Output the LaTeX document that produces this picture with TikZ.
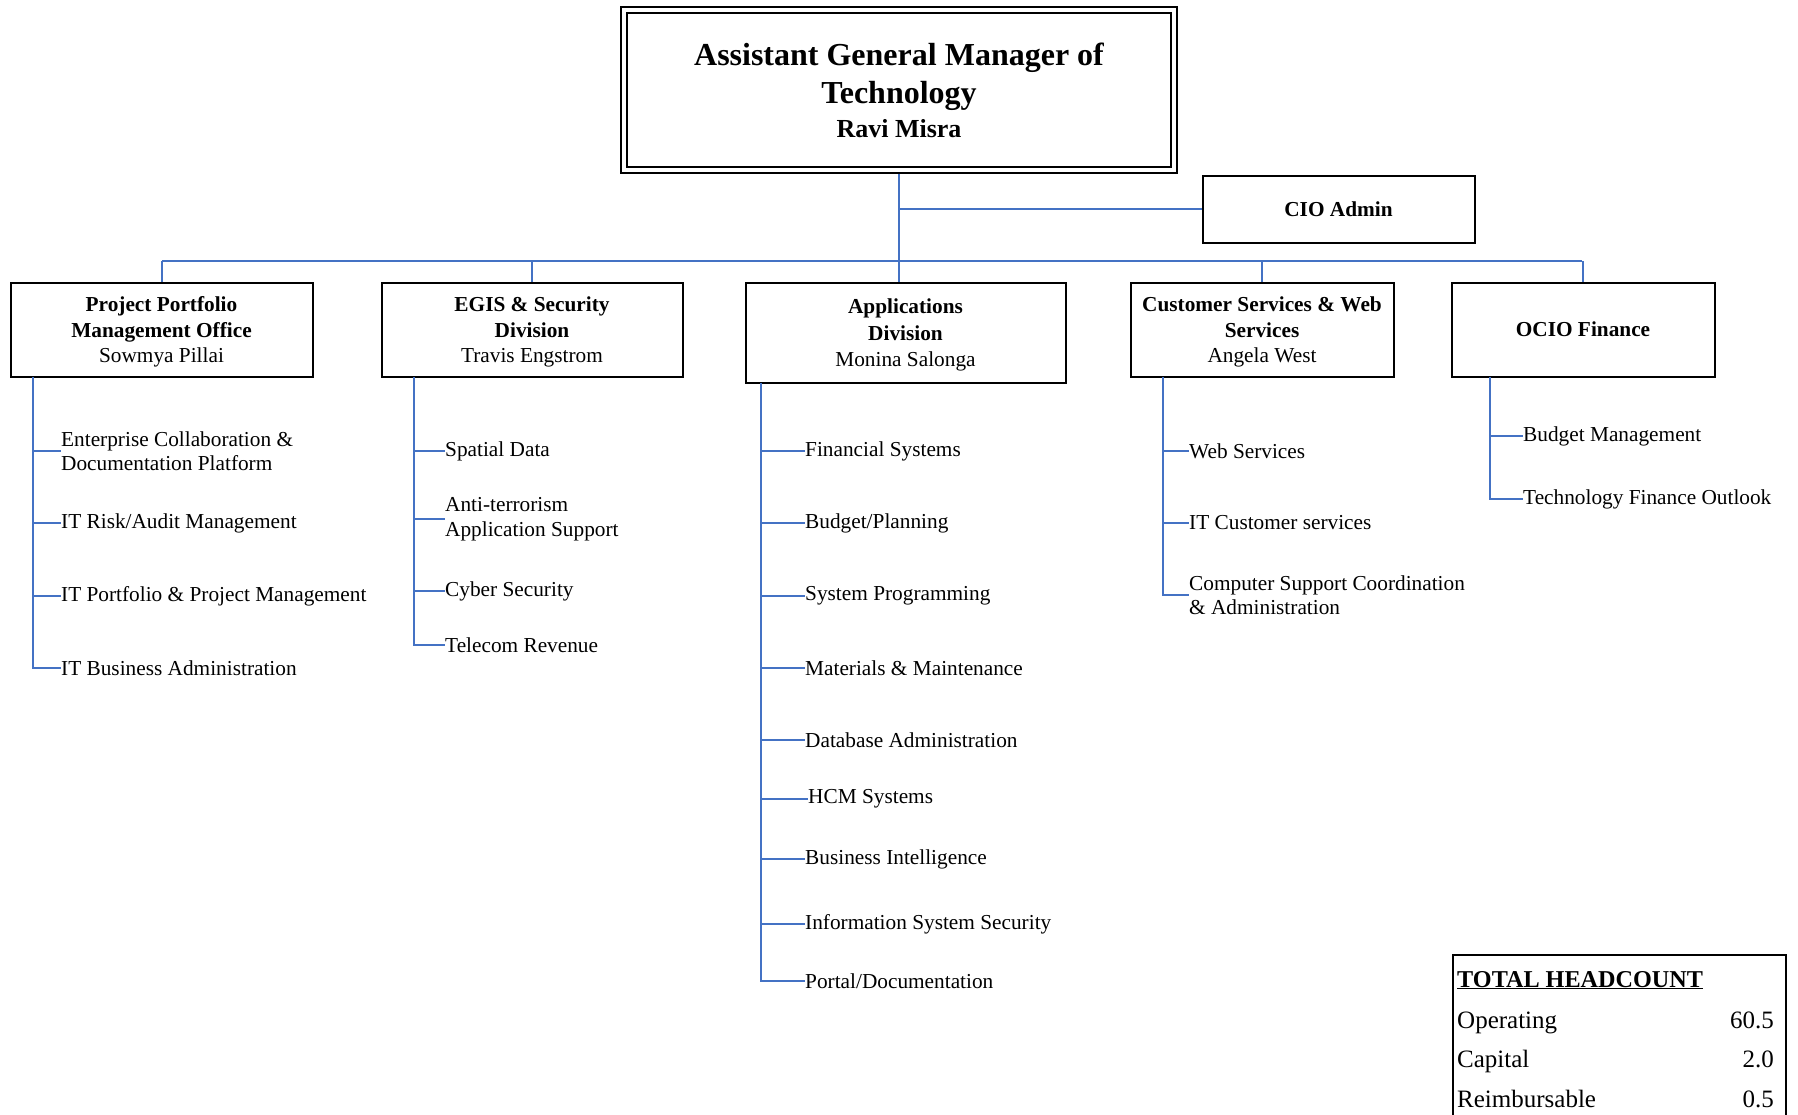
\documentclass[tikz,border=0pt]{standalone}
\usepackage{fontspec}
\setmainfont{Liberation Serif}
\definecolor{linkblue}{RGB}{68,114,196}
\newcommand{\firstline}{\rule{0pt}{20pt}}
\begin{document}
\begin{tikzpicture}[x=1pt,y=-1pt,
  unitbox/.style={draw=black,line width=2pt,fill=white,inner sep=0pt,align=center,
    font=\fontsize{21.3}{25.5}\selectfont},
  link/.style={draw=linkblue,line width=2pt},
  item/.style={inner sep=0pt,anchor=west,align=left,font=\fontsize{21.3}{24.5}\selectfont},
  hc/.style={inner sep=0pt,font=\fontsize{25}{30}\selectfont,text height=17pt,text depth=5pt}
]
\useasboundingbox (0,0) rectangle (1798,1114);

% head of the organisation (double frame)
\node[draw=black,line width=2.6pt,minimum width=556pt,minimum height=166pt,inner sep=0pt] (agm) at (899,90) {};
\node[draw=black,line width=1.3pt,minimum width=544pt,minimum height=154pt,inner sep=0pt,align=center,
  font=\fontsize{32}{38}\selectfont\bfseries] (agmtext) at (899,90)
  {Assistant General Manager of\\Technology\\[-4pt]{\fontsize{26}{30}\selectfont Ravi Misra}};

% staff office
\node[unitbox,minimum width=272pt,minimum height=67pt] (cio) at (1338.5,209) {\bfseries CIO Admin};

% divisions
\node[unitbox,minimum width=302pt,minimum height=94pt] (ppmo) at (161.5,329.5)
  {\bfseries\firstline Project Portfolio\\\bfseries Management Office\\Sowmya Pillai};
\node[unitbox,minimum width=301pt,minimum height=94pt] (egis) at (532,329.5)
  {\bfseries\firstline EGIS \& Security\\\bfseries Division\\Travis Engstrom};
\node[unitbox,minimum width=320pt,minimum height=100pt,font=\fontsize{21.3}{26.5}\selectfont] (apps) at (905.5,332.5)
  {\bfseries\firstline Applications\\\bfseries Division\\Monina Salonga};
\node[unitbox,minimum width=263pt,minimum height=94pt] (csws) at (1262,329.5)
  {\bfseries\firstline Customer Services \& Web\\\bfseries Services\\Angela West};
\node[unitbox,minimum width=263pt,minimum height=94pt] (ocio) at (1583,329.5)
  {\bfseries OCIO Finance};

% reporting lines
\coordinate (busL) at (162,261);
\coordinate (busR) at (1582,261);
\draw[link] (agm.south) -- (agm.south |- apps.north);
\draw[link] (agm.south |- cio.west) -- (cio.west);
\draw[link] (busL) -- (busR);
\draw[link] (ppmo.north) -- (ppmo.north |- busL);
\draw[link] (egis.north) -- (egis.north |- busL);
\draw[link] (csws.north) -- (csws.north |- busL);
\draw[link] (ocio.north) -- (ocio.north |- busL);

% Project Portfolio Management Office units
\coordinate (ppmoSp) at (33,377);
\node[item] (p1) at (61,451) {Enterprise Collaboration \&\\Documentation Platform};
\node[item] (p2) at (61,523) {IT Risk/Audit Management};
\node[item] (p3) at (61,596) {IT Portfolio \& Project Management};
\node[item] (p4) at (61,668) {IT Business Administration};
\foreach \n in {p1,p2,p3,p4} \draw[link] (ppmoSp) |- (\n.west);

% EGIS & Security units
\coordinate (egisSp) at (414,377);
\node[item] (e1) at (445,451) {Spatial Data};
\node[item] (e2) at (445,519) {Anti-terrorism\\Application Support};
\node[item] (e3) at (445,591) {Cyber Security};
\node[item] (e4) at (445,645) {Telecom Revenue};
\foreach \n in {e1,e2,e3,e4} \draw[link] (egisSp) |- (\n.west);

% Applications units
\coordinate (appsSp) at (761,383);
\node[item] (a1) at (805,451) {Financial Systems};
\node[item] (a2) at (805,523) {Budget/Planning};
\node[item] (a3) at (805,596) {System Programming};
\node[item] (a4) at (805,668) {Materials \& Maintenance};
\node[item] (a5) at (805,740) {Database Administration};
\node[item] (a6) at (808,799) {HCM Systems};
\node[item] (a7) at (805,859) {Business Intelligence};
\node[item] (a8) at (805,924) {Information System Security};
\node[item] (a9) at (805,981) {Portal/Documentation};
\foreach \n in {a1,a2,a3,a4,a5,a6,a7,a8,a9} \draw[link] (appsSp) |- (\n.west);

% Customer Services & Web Services units
\coordinate (cswsSp) at (1163,377);
\node[item] (c1) at (1189,451) {Web Services};
\node[item] (c2) at (1189,523) {IT Customer services};
\node[item] (c3) at (1189,595) {Computer Support Coordination\\\& Administration};
\foreach \n in {c1,c2,c3} \draw[link] (cswsSp) |- (\n.west);

% OCIO Finance units
\coordinate (ocioSp) at (1490,377);
\node[item] (f1) at (1523,436) {Budget Management};
\node[item] (f2) at (1523,499) {Technology Finance Outlook};
\foreach \n in {f1,f2} \draw[link] (ocioSp) |- (\n.west);

% headcount summary
\node[draw=black,line width=2pt,minimum width=333pt,minimum height=175pt,inner sep=0pt,anchor=north west] (hcbox) at (1452,954) {};
\node[hc,anchor=west,font=\fontsize{24.2}{30}\selectfont\bfseries] (hctitle) at (1457,981) {\underline{TOTAL HEADCOUNT}};
\node[hc,anchor=west] (hcop) at (1457,1022) {Operating};
\node[hc,anchor=east] (hcopv) at (1774,1022) {60.5};
\node[hc,anchor=west] (hccap) at (1457,1061) {Capital};
\node[hc,anchor=east] (hccapv) at (1774,1061) {2.0};
\node[hc,anchor=west] (hcre) at (1457,1101) {Reimbursable};
\node[hc,anchor=east] (hcrev) at (1774,1101) {0.5};
\end{tikzpicture}
\end{document}
